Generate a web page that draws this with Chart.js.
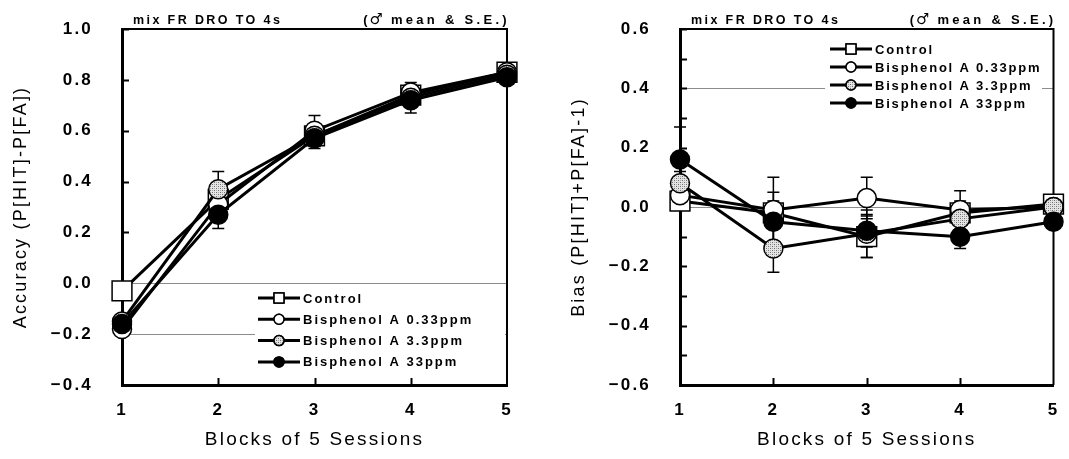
<!DOCTYPE html>
<html>
<head>
<meta charset="utf-8">
<script src="https://cdn.jsdelivr.net/npm/chart.js@4/dist/chart.umd.min.js"></script>
<style>
  html, body { margin: 0; padding: 0; background: #fff; }
  #wrap { position: relative; width: 1069px; height: 459px; overflow: hidden; }
  canvas { position: absolute; top: 0; }
</style>
</head>
<body>
<div id="wrap">
  <canvas id="acc" width="534" height="459" style="left:0"></canvas>
  <canvas id="bias" width="535" height="459" style="left:534px"></canvas>
</div>
<script>
// ---- data ----
const blocks = ['1', '2', '3', '4', '5'];
const seriesNames = ['Control', 'Bisphenol A 0.33ppm', 'Bisphenol A 3.3ppm', 'Bisphenol A 33ppm'];

// Accuracy  P[HIT]-P[FA]  (mean and S.E.)
const accControl = [-0.03, 0.33, 0.58, 0.74, 0.83];
const accLow     = [-0.18, 0.31, 0.60, 0.75, 0.83];
const accMid     = [-0.15, 0.37, 0.58, 0.73, 0.82];
const accHigh    = [-0.16, 0.27, 0.57, 0.72, 0.81];
const accControlSE = [0.02, 0.05, 0.04, 0.04, 0.02];
const accLowSE     = [0.02, 0.05, 0.06, 0.04, 0.02];
const accMidSE     = [0.02, 0.07, 0.04, 0.04, 0.02];
const accHighSE    = [0.02, 0.055, 0.04, 0.05, 0.02];

// Bias  P[HIT]+P[FA]-1  (mean and S.E.)
const biasControl = [0.02, -0.02, -0.10, -0.02, 0.01];
const biasLow     = [0.04, -0.01, 0.03, -0.01, 0.00];
const biasMid     = [0.08, -0.14, -0.09, -0.04, 0.00];
const biasHigh    = [0.16, -0.05, -0.08, -0.10, -0.05];
const biasControlSE = [0.03, 0.04, 0.07, 0.04, 0.02];
const biasLowSE     = [0.03, 0.11, 0.07, 0.065, 0.02];
const biasMidSE     = [0.04, 0.08, 0.08, 0.04, 0.02];
const biasHighSE    = [0.11, 0.10, 0.055, 0.04, 0.02];

// axis ticks
const accTicks = [-0.4, -0.2, 0.0, 0.2, 0.4, 0.6, 0.8, 1.0];
const biasTicks = [-0.6, -0.4, -0.2, 0.0, 0.2, 0.4, 0.6];
const biasMinorTicks = [-0.5, -0.3, -0.1, 0.1, 0.3, 0.5];
const accGridValues = [0.0, -0.2];
const biasGridValues = [0.4, 0.0];

// ---- styling ----
const FONT = "'Liberation Sans', Arial, sans-serif";

// stippled grey fill for the 3.3ppm markers
const tile = document.createElement('canvas');
tile.width = 4; tile.height = 4;
(function () {
  const g = tile.getContext('2d');
  g.fillStyle = '#e4e4e4'; g.fillRect(0, 0, 4, 4);
  g.fillStyle = '#6e6e6e';
  g.fillRect(0, 0, 1, 1); g.fillRect(2, 2, 1, 1);
  g.fillStyle = '#a8a8a8';
  g.fillRect(2, 0, 1, 1); g.fillRect(0, 2, 1, 1);
})();
const stipple = (ctx) => ctx.chart.ctx.createPattern(tile, 'repeat');

const markerStyles = [
  { pointStyle: 'rect', pointRadius: 14, fill: () => '#ffffff' },
  { pointStyle: 'circle', pointRadius: 9.5, fill: () => '#ffffff' },
  { pointStyle: 'circle', pointRadius: 9.5, fill: stipple },
  { pointStyle: 'circle', pointRadius: 9.5, fill: () => '#000000' }
];

const fmt = (v) => {
  const r = Math.round(v * 10) / 10;
  return (r < 0 ? '\u2212' : '') + Math.abs(r).toFixed(1);
};
const near = (a, b) => Math.abs(a - b) < 1e-6;

// ---- plugins ----
const spacing = {
  id: 'spacing',
  beforeLayout(chart) { chart.ctx.letterSpacing = '2.2px'; },
  beforeDraw(chart) { chart.ctx.letterSpacing = '2.2px'; }
};

const errorBars = {
  id: 'errorBars',
  beforeDatasetsDraw(chart) {
    const { ctx, scales: { y } } = chart;
    ctx.save();
    ctx.strokeStyle = '#000';
    ctx.lineWidth = 1.5;
    chart.data.datasets.forEach((ds, di) => {
      const meta = chart.getDatasetMeta(di);
      ds.data.forEach((v, i) => {
        const se = ds.se[i];
        const x = meta.data[i].x;
        const yt = y.getPixelForValue(v + se);
        const yb = y.getPixelForValue(v - se);
        ctx.beginPath();
        ctx.moveTo(x, yt); ctx.lineTo(x, yb);
        ctx.moveTo(x - 6, yt); ctx.lineTo(x + 6, yt);
        ctx.moveTo(x - 6, yb); ctx.lineTo(x + 6, yb);
        ctx.stroke();
      });
    });
    ctx.restore();
  }
};

const frame = {
  id: 'frame',
  beforeDatasetsDraw(chart, args, opts) {
    const { ctx, chartArea: a, scales: { x, y } } = chart;
    ctx.save();
    ctx.strokeStyle = '#000';
    // top and right edges of the plot box
    ctx.lineWidth = 2;
    ctx.beginPath();
    ctx.moveTo(a.left, a.top); ctx.lineTo(a.right, a.top); ctx.lineTo(a.right, a.bottom);
    ctx.stroke();
    // inward tick marks
    ctx.beginPath();
    (opts.yMarks || []).forEach((v) => {
      const py = Math.round(y.getPixelForValue(v)) + 0.5;
      ctx.moveTo(a.left, py); ctx.lineTo(a.left + 7, py);
    });
    for (let i = 1; i < blocks.length - 1; i++) {
      const px = Math.round(x.getPixelForValue(i)) + 0.5;
      ctx.moveTo(px, a.bottom); ctx.lineTo(px, a.bottom - 7);
    }
    ctx.stroke();
    ctx.restore();
  }
};

const seriesKey = {
  id: 'seriesKey',
  afterDatasetsDraw(chart, args, opts) {
    const { ctx, chartArea: a } = chart;
    ctx.save();
    ctx.fillStyle = '#fff';
    ctx.fillRect(a.left + opts.box[0], a.top + opts.box[1], opts.box[2], opts.box[3]);
    const x0 = a.left + opts.x;
    chart.data.datasets.forEach((ds, i) => {
      const yy = a.top + opts.y + i * opts.step;
      ctx.strokeStyle = '#000';
      ctx.lineWidth = 3;
      ctx.beginPath();
      ctx.moveTo(x0, yy); ctx.lineTo(x0 + 42, yy);
      ctx.stroke();
      const st = markerStyles[i];
      const fill = st.fill({ chart });
      ctx.lineWidth = 1.5;
      Chart.helpers.drawPoint(ctx, {
        pointStyle: st.pointStyle,
        radius: st.pointStyle === 'rect' ? 7 : 5,
        rotation: 0,
        borderWidth: 1.5
      }, x0 + 21, yy);
      ctx.fillStyle = fill;
      ctx.fill();
      ctx.stroke();
      ctx.fillStyle = '#000';
      ctx.font = 'bold 13px ' + FONT;
      ctx.letterSpacing = opts.letterSpacing;
      ctx.textBaseline = 'middle';
      ctx.textAlign = 'left';
      ctx.fillText(ds.label, x0 + 45, yy + 1);
    });
    ctx.restore();
  }
};

const captions = {
  id: 'captions',
  afterDraw(chart) {
    const { ctx, chartArea: a } = chart;
    const base = a.top - 5;
    ctx.save();
    ctx.fillStyle = '#000';
    ctx.textBaseline = 'alphabetic';
    ctx.textAlign = 'left';
    ctx.font = 'bold 12.5px ' + FONT;
    ctx.letterSpacing = '2.4px';
    ctx.fillText('mix FR DRO TO 4s', a.left + 11, base);

    // "(♂ mean & S.E.)" right-aligned on the box, symbol set a little larger
    const parts = [
      { t: '(', f: 'bold 13px ' + FONT, s: '2px' },
      { t: '\u2642', f: 'bold 15px "DejaVu Sans", sans-serif', s: '1px' },
      { t: ' mean & S.E.)', f: 'bold 13px ' + FONT, s: '3.3px' }
    ];
    let total = 0;
    parts.forEach((p) => { ctx.font = p.f; ctx.letterSpacing = p.s; p.w = ctx.measureText(p.t).width; total += p.w; });
    let x = a.right - total + 3;
    parts.forEach((p) => { ctx.font = p.f; ctx.letterSpacing = p.s; ctx.fillText(p.t, x, base); x += p.w; });
    ctx.restore();
  }
};

// ---- chart builder ----
function buildChart(id, cfg) {
  const datasets = cfg.values.map((vals, i) => {
    const st = markerStyles[i];
    return {
      label: seriesNames[i],
      data: vals,
      se: cfg.se[i],
      borderColor: '#000',
      borderWidth: 3,
      tension: 0,
      fill: false,
      pointStyle: st.pointStyle,
      pointRadius: st.pointRadius,
      pointHoverRadius: st.pointRadius,
      pointBackgroundColor: st.fill,
      pointBorderColor: '#000',
      pointBorderWidth: 1.5,
      clip: false,
      order: 4 - i
    };
  });

  return new Chart(document.getElementById(id), {
    type: 'line',
    data: { labels: blocks, datasets },
    options: {
      responsive: false,
      animation: false,
      events: [],
      layout: { padding: cfg.padding },
      plugins: {
        legend: { display: false },
        tooltip: { enabled: false },
        frame: { yMarks: cfg.yMarks },
        seriesKey: cfg.key
      },
      scales: {
        x: {
          type: 'category',
          offset: false,
          grid: { display: false, drawTicks: false },
          border: { display: true, color: '#000', width: 3 },
          ticks: { padding: 15, color: '#000', font: { family: FONT, size: 17, weight: 'bold' }, maxRotation: 0 },
          title: {
            display: true, text: 'Blocks of 5 Sessions', color: '#000',
            font: { family: FONT, size: 19 }, padding: { top: 0, bottom: 8 }
          },
          afterFit(s) {
            s.height = 74;
            // the layout padding alone decides the plot edges
            s.paddingLeft = 0; s.paddingRight = 0;
          }
        },
        y: {
          min: cfg.min, max: cfg.max,
          afterBuildTicks(s) { s.ticks = cfg.ticks.map((v) => ({ value: v })); },
          ticks: {
            callback: (v) => fmt(v),
            padding: 29, color: '#000',
            font: { family: FONT, size: 17, weight: 'bold' }
          },
          grid: {
            drawTicks: false,
            lineWidth: 1,
            color: (c) => cfg.gridAt.some((g) => near(g, c.tick.value)) ? '#8c8c8c' : 'rgba(0,0,0,0)'
          },
          border: { display: true, color: '#000', width: 3 },
          title: {
            display: true, text: cfg.yTitle, color: '#000',
            font: { family: FONT, size: 18 }, padding: { top: cfg.titlePad, bottom: 0 }
          },
          afterFit(s) {
            s.width = cfg.axisWidth;
            s.paddingTop = 0; s.paddingBottom = 0;
          }
        }
      }
    },
    plugins: [spacing, errorBars, frame, seriesKey, captions]
  });
}

buildChart('acc', {
  values: [accControl, accLow, accMid, accHigh],
  se: [accControlSE, accLowSE, accMidSE, accHighSE],
  min: -0.4, max: 1.0,
  ticks: accTicks,
  yMarks: accTicks,
  gridAt: accGridValues,
  yTitle: 'Accuracy (P[HIT]-P[FA])',
  titlePad: 10,
  axisWidth: 122,
  padding: { left: 0, right: 27, top: 29, bottom: 0 },
  key: { x: 136, y: 269, step: 21.3, box: [133, 258, 250, 86], letterSpacing: '2px' }
});

buildChart('bias', {
  values: [biasControl, biasLow, biasMid, biasHigh],
  se: [biasControlSE, biasLowSE, biasMidSE, biasHighSE],
  min: -0.6, max: 0.6,
  ticks: biasTicks,
  yMarks: biasTicks.concat(biasMinorTicks),
  gridAt: biasGridValues,
  yTitle: 'Bias (P[HIT]+P[FA]-1)',
  titlePad: 34,
  axisWidth: 146,
  padding: { left: 0, right: 8, top: 29, bottom: 0 },
  key: { x: 150, y: 20, step: 18, box: [145, 10, 217, 76], letterSpacing: '1.8px' }
});
</script>
</body>
</html>
